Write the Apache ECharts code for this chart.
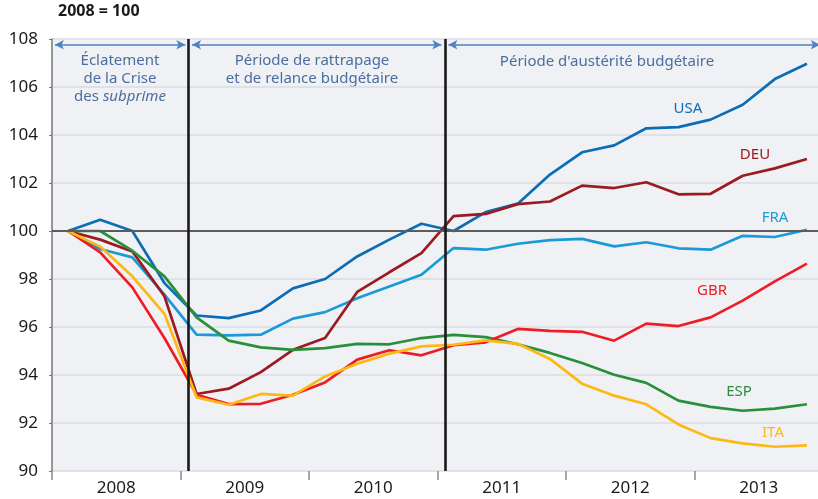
<!DOCTYPE html>
<html>
<head>
<meta charset="utf-8">
<script src="https://cdn.jsdelivr.net/npm/echarts@6/dist/echarts.min.js"></script>
<style>
  html, body { margin: 0; padding: 0; background: #fff; }
  #chart { width: 818px; height: 499px; }
</style>
</head>
<body>
<div id="chart"></div>
<script>
// quarters 2008T1 .. 2013T4, index 2008 = 100
const quarters = [
  '2008T1', '2008T2', '2008T3', '2008T4', '2009T1', '2009T2', '2009T3', '2009T4',
  '2010T1', '2010T2', '2010T3', '2010T4', '2011T1', '2011T2', '2011T3', '2011T4',
  '2012T1', '2012T2', '2012T3', '2012T4', '2013T1', '2013T2', '2013T3', '2013T4'
]
const years = ['2008', '2009', '2010', '2011', '2012', '2013']

const usa = [100, 100.47, 100.0, 97.83, 96.48, 96.37, 96.69, 97.61, 98.0, 98.94, 99.64, 100.3,
  100.0, 100.79, 101.14, 102.35, 103.28, 103.57, 104.28, 104.33, 104.64, 105.26, 106.33, 106.97]
const deu = [100, 99.64, 99.15, 97.28, 93.21, 93.43, 94.12, 95.05, 95.54, 97.46, 98.28, 99.08,
  100.62, 100.71, 101.12, 101.23, 101.89, 101.79, 102.03, 101.53, 101.55, 102.3, 102.61, 103.0]
const fra = [100, 99.25, 98.9, 97.35, 95.68, 95.65, 95.68, 96.35, 96.62, 97.2, 97.69, 98.18,
  99.29, 99.22, 99.47, 99.62, 99.67, 99.36, 99.53, 99.28, 99.22, 99.8, 99.75, 100.05]
const gbr = [100, 99.11, 97.65, 95.54, 93.18, 92.79, 92.8, 93.18, 93.69, 94.64, 95.03, 94.82,
  95.24, 95.36, 95.92, 95.84, 95.8, 95.43, 96.14, 96.04, 96.4, 97.1, 97.9, 98.64]
const esp = [100, 100.0, 99.18, 98.11, 96.4, 95.43, 95.15, 95.05, 95.12, 95.3, 95.28, 95.54,
  95.67, 95.58, 95.28, 94.92, 94.5, 94.01, 93.67, 92.93, 92.67, 92.51, 92.6, 92.78]
const ita = [100, 99.35, 98.11, 96.55, 93.07, 92.76, 93.21, 93.14, 93.94, 94.47, 94.89, 95.19,
  95.26, 95.44, 95.3, 94.67, 93.64, 93.14, 92.78, 91.94, 91.37, 91.15, 91.01, 91.07]

// period boundaries, in quarters from the left edge
const breaks = [4.24, 12.24]

const FONT = 'Noto Sans'
const periodColor = '#4a6e9f'
const arrowColor = '#4d82c4'

const chart = echarts.init(document.getElementById('chart'))

function lineSeries(name, data, color) {
  return {
    name: name,
    type: 'line',
    data: data,
    xAxisIndex: 0,
    symbol: 'none',
    lineStyle: { color: color, width: 2.7 },
    silent: true
  }
}

function arrow(from, to) {
  return [
    { coord: [from, 107.76] },
    { coord: [to, 107.76] }
  ]
}

const option = {
  animation: false,
  textStyle: { fontFamily: FONT },
  grid: {
    left: 52, top: 39, width: 771, height: 432,
    show: true, backgroundColor: '#eff1f4', borderWidth: 0,
    outerBoundsMode: 'none'
  },
  xAxis: [
    { type: 'category', data: quarters, boundaryGap: true, show: false },
    {
      type: 'category', data: years, boundaryGap: true, position: 'bottom',
      axisLine: { show: false },
      axisTick: { show: true, length: 9, lineStyle: { color: '#8a8a8a', width: 1.5 } },
      axisLabel: { fontSize: 17, color: '#1a1a1a', margin: 9, fontFamily: FONT }
    },
    { type: 'value', min: 0, max: 24, show: false }
  ],
  yAxis: {
    type: 'value', min: 90, max: 108, interval: 2,
    axisLine: { show: true, lineStyle: { color: '#777', width: 1.5 } },
    axisTick: { show: true, length: 3, lineStyle: { color: '#777' } },
    axisLabel: { fontSize: 17, color: '#1a1a1a', margin: 14, fontFamily: FONT },
    splitLine: { lineStyle: { color: '#d8dbe0', width: 1.5 } }
  },
  series: [
    {
      type: 'line', xAxisIndex: 2, data: [], silent: true,
      markLine: {
        silent: true, symbol: 'none', label: { show: false },
        data: [
          { yAxis: 100, lineStyle: { color: '#5c5c5c', width: 2, type: 'solid' } },
          [{ coord: [breaks[0], 90] }, { coord: [breaks[0], 108] }],
          [{ coord: [breaks[1], 90] }, { coord: [breaks[1], 108] }]
        ],
        lineStyle: { color: '#1a1a1a', width: 2.6, type: 'solid' }
      }
    },
    {
      type: 'line', xAxisIndex: 2, data: [], silent: true,
      markLine: {
        silent: true, symbol: ['arrow', 'arrow'], symbolSize: [7, 9],
        label: { show: false },
        lineStyle: { color: arrowColor, width: 1.6, type: 'solid' },
        data: [
          arrow(0.09, 4.15),
          arrow(4.36, 12.12),
          arrow(12.34, 23.9)
        ]
      }
    },
    lineSeries('USA', usa, '#0b6db5'),
    lineSeries('FRA', fra, '#1b9ad8'),
    lineSeries('DEU', deu, '#9b1b22'),
    lineSeries('ESP', esp, '#2a8f3a'),
    lineSeries('GBR', gbr, '#ee1d25'),
    lineSeries('ITA', ita, '#fdb913')
  ],
  graphic: [
    { type: 'text', left: 58, top: 3,
      style: { text: '2008 = 100', font: 'bold 16px ' + FONT, fill: '#1a1a1a' } },
    { type: 'text', x: 120, y: 61,
      style: { text: 'Éclatement', font: '15px ' + FONT, fill: periodColor, align: 'center', verticalAlign: 'middle' } },
    { type: 'text', x: 120, y: 79,
      style: { text: 'de la Crise', font: '15px ' + FONT, fill: periodColor, align: 'center', verticalAlign: 'middle' } },
    { type: 'text', x: 120, y: 97,
      style: {
        text: '{n|des }{i|subprime}', align: 'center', verticalAlign: 'middle',
        rich: {
          n: { fontFamily: FONT, fontSize: 15, fill: periodColor, color: periodColor },
          i: { fontFamily: FONT, fontSize: 15, fontStyle: 'italic', fill: periodColor, color: periodColor }
        }
      } },
    { type: 'text', x: 312, y: 61,
      style: { text: 'Période de rattrapage', font: '15px ' + FONT, fill: periodColor, align: 'center', verticalAlign: 'middle' } },
    { type: 'text', x: 312, y: 79,
      style: { text: 'et de relance budgétaire', font: '15px ' + FONT, fill: periodColor, align: 'center', verticalAlign: 'middle' } },
    { type: 'text', x: 607, y: 62,
      style: { text: "Période d'austérité budgétaire", font: '15px ' + FONT, fill: periodColor, align: 'center', verticalAlign: 'middle' } },
    { type: 'text', x: 688, y: 109,
      style: { text: 'USA', font: '15px ' + FONT, fill: '#0b6db5', align: 'center', verticalAlign: 'middle' } },
    { type: 'text', x: 755, y: 155,
      style: { text: 'DEU', font: '15px ' + FONT, fill: '#9b1b22', align: 'center', verticalAlign: 'middle' } },
    { type: 'text', x: 775, y: 218,
      style: { text: 'FRA', font: '15px ' + FONT, fill: '#1b9ad8', align: 'center', verticalAlign: 'middle' } },
    { type: 'text', x: 712, y: 291,
      style: { text: 'GBR', font: '15px ' + FONT, fill: '#ee1d25', align: 'center', verticalAlign: 'middle' } },
    { type: 'text', x: 739, y: 392,
      style: { text: 'ESP', font: '15px ' + FONT, fill: '#2a8f3a', align: 'center', verticalAlign: 'middle' } },
    { type: 'text', x: 773, y: 433,
      style: { text: 'ITA', font: '15px ' + FONT, fill: '#fdb913', align: 'center', verticalAlign: 'middle' } }
  ]
}

chart.setOption(option)
</script>
</body>
</html>
